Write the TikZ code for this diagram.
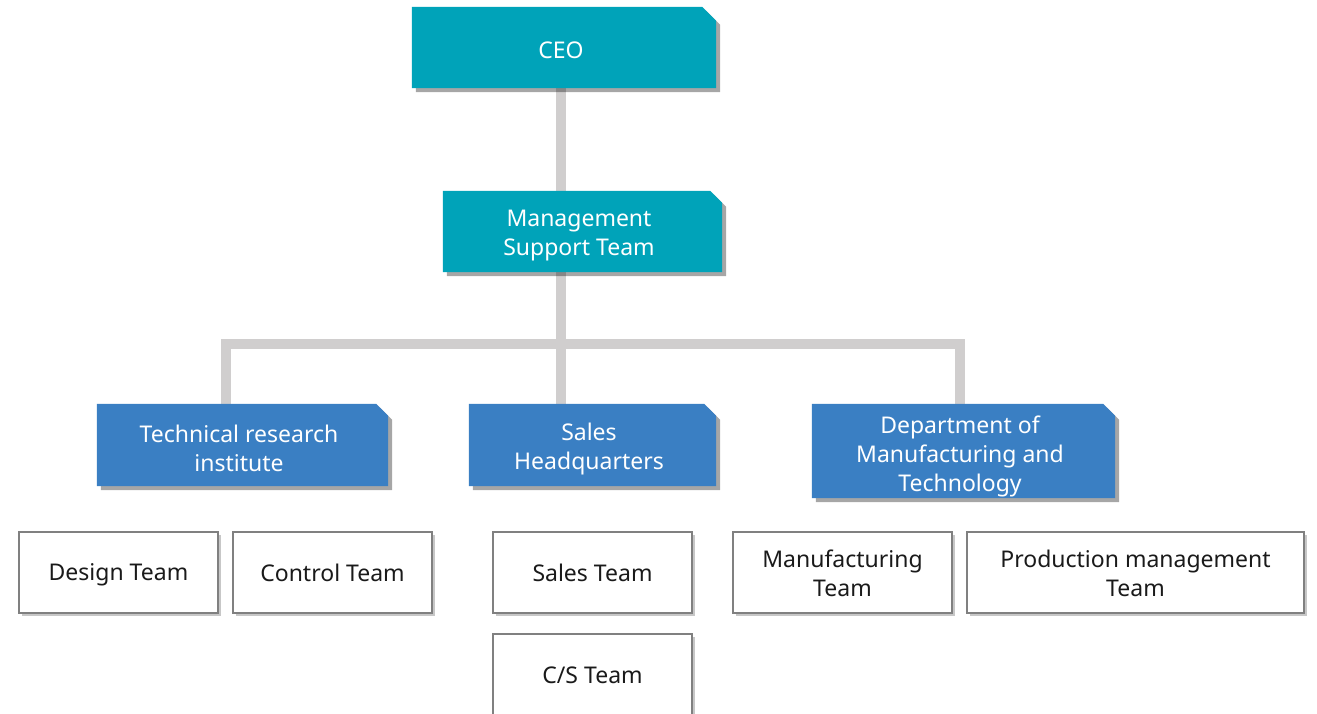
\documentclass[tikz,border=0pt]{standalone}
\usepackage{fontspec}
\setmainfont{Noto Sans}
\usetikzlibrary{shadows}
\definecolor{teal1}{HTML}{00A3B9}
\definecolor{blue1}{HTML}{3A7FC3}
\definecolor{linkc}{HTML}{D0CECE}
\definecolor{bord}{HTML}{808080}
\definecolor{ink}{HTML}{1A1A1A}
\pgfdeclarelayer{bg}
\pgfsetlayers{bg,main}
\newcommand\tstrut{\rule[-2.6pt]{0pt}{24pt}}
\newcommand\cutfill[3]{%
  \fill[#2, drop shadow={shadow xshift=4pt,shadow yshift=-4pt,opacity=0.35,fill=black}]
    (#1.north west) -- ([xshift=-#3pt]#1.north east) -- ([yshift=-#3pt]#1.north east)
    -- (#1.south east) -- (#1.south west) -- cycle;}
\begin{document}
\begin{tikzpicture}[x=1pt,y=-1pt,
  font=\fontsize{23}{29}\selectfont,
  cbox/.style={rectangle, inner sep=0pt, draw=none},
  ctxt/.style={align=center, inner sep=0pt, text=white},
  wbox/.style={rectangle, draw=bord, line width=2pt, fill=white, inner sep=0pt,
    align=center, text=ink, minimum height=81pt,
    drop shadow={shadow xshift=3pt,shadow yshift=-3pt,opacity=0.22,fill=black}},
  link/.style={draw=linkc, line width=10pt, line join=miter}]
\useasboundingbox (0,0) rectangle (1317,714);

% coloured boxes (geometry)
\node[cbox, minimum width=304pt, minimum height=81pt] (ceo) at (564,47.5) {};
\node[cbox, minimum width=279pt, minimum height=81pt] (mst) at (582.5,231.5) {};
\node[cbox, minimum width=291pt, minimum height=82pt] (tech) at (242.5,445) {};
\node[cbox, minimum width=247pt, minimum height=82pt] (sales) at (592.5,445) {};
\node[cbox, minimum width=303pt, minimum height=94pt] (dept) at (963.5,451) {};

\coordinate (trunk) at (561,344);
\coordinate (busL) at (226,344);
\coordinate (busR) at (960,344);

\begin{pgfonlayer}{bg}
  \draw[link] (ceo.south -| trunk) -- (mst.north -| trunk);
  \draw[link] (mst.south -| trunk) -- (sales.north -| trunk);
  \draw[link] (tech.north -| busL) -- (busL) -- (busR) -- (dept.north -| busR);
  \cutfill{ceo}{teal1}{14}
  \cutfill{mst}{teal1}{12}
  \cutfill{tech}{blue1}{12}
  \cutfill{sales}{blue1}{12}
  \cutfill{dept}{blue1}{12}
\end{pgfonlayer}

\node[ctxt] (ceot) at (561,49.5) {CEO\tstrut};
\node[ctxt] (mstt) at (579,233) {Management\tstrut\\Support Team\tstrut};
\node[ctxt] (techt) at (239,447.5) {Technical research\tstrut\\institute\tstrut};
\node[ctxt] (salest) at (589,447.5) {Sales\tstrut\\Headquarters\tstrut};
\node[ctxt] (deptt) at (960,454.5) {Department of\tstrut\\Manufacturing and\tstrut\\Technology\tstrut};

% white boxes
\node[wbox, minimum width=199pt] (design) at (118.5,572.5) {Design Team\tstrut};
\node[wbox, minimum width=199pt] (control) at (332.5,572.5) {Control Team\tstrut};
\node[wbox, minimum width=199pt] (salesteam) at (592.5,572.5) {Sales Team\tstrut};
\node[wbox, minimum width=199pt] (cs) at (592.5,674.5) {C/S Team\tstrut};
\node[wbox, minimum width=219pt] (manuf) at (842.5,572.5) {Manufacturing\tstrut\\Team\tstrut};
\node[wbox, minimum width=337pt] (prod) at (1135.5,572.5) {Production management\tstrut\\Team\tstrut};
\end{tikzpicture}
\end{document}
